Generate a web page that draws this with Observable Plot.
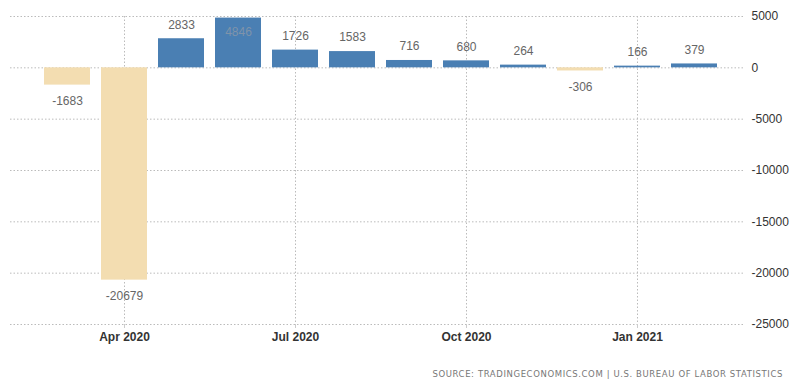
<!DOCTYPE html>
<html>
<head>
<meta charset="utf-8">
<script src="https://cdn.jsdelivr.net/npm/d3@7"></script>
<script src="https://cdn.jsdelivr.net/npm/@observablehq/plot@0.6"></script>
<style>
  html, body { margin: 0; padding: 0; background: #fff; }
  #chart { width: 800px; height: 387px; position: relative; }
  #source { position: absolute; right: 17px; top: 369px; font-family: "DejaVu Sans", sans-serif; font-size: 8.5px; letter-spacing: 0.6px; color: #777; }
</style>
</head>
<body>
<div id="chart"></div>
<script>
const months = ["2020-03","2020-04","2020-05","2020-06","2020-07","2020-08","2020-09","2020-10","2020-11","2020-12","2021-01","2021-02"];
const values = [-1683, -20679, 2833, 4846, 1726, 1583, 716, 680, 264, -306, 166, 379];
const tickMonths = ["2020-04","2020-07","2020-10","2021-01"];
const tickLabels = ["Apr 2020","Jul 2020","Oct 2020","Jan 2021"];
const yTicks = [5000, 0, -5000, -10000, -15000, -20000, -25000];
const sourceText = "SOURCE: TRADINGECONOMICS.COM | U.S. BUREAU OF LABOR STATISTICS";

const data = months.map((m, i) => ({month: m, value: values[i]}));
const labelMap = new Map(tickMonths.map((m, i) => [m, tickLabels[i]]));
const tall = d => d.value > 4000;

const plot = Plot.plot({
  width: 800,
  height: 350,
  marginLeft: 10,
  marginRight: 55,
  marginTop: 16,
  marginBottom: 26,
  style: {fontFamily: "Liberation Sans, Arial, sans-serif", fontSize: "12px", background: "#fff"},
  x: {type: "band", domain: months, paddingInner: 0.2, paddingOuter: 0.5, align: 0.55, label: null},
  y: {domain: [-25000, 5000], label: null},
  marks: [
    Plot.gridY(yTicks, {stroke: "#bbb", strokeOpacity: 1, strokeDasharray: "1.5,2"}),
    Plot.gridX(tickMonths, {stroke: "#bbb", strokeOpacity: 1, strokeDasharray: "1.5,2"}),
    Plot.barY(data, {x: "month", y: "value", fill: d => d.value >= 0 ? "#4a7fb3" : "#f3ddb1"}),
    Plot.axisY(yTicks, {anchor: "right", label: null, tickSize: 0, tickPadding: 6, tickFormat: d => String(d), fill: "#333", fontSize: 12}),
    Plot.axisX(tickMonths, {anchor: "bottom", label: null, tickSize: 4, tickPadding: 4, stroke: "#ccc", tickFormat: d => labelMap.get(d), fill: "#333", fontSize: 12, fontWeight: "bold"}),
    Plot.text(data.filter(d => d.value >= 0 && !tall(d)), {x: "month", y: "value", dy: -14, text: d => String(d.value), fill: "#666", fontSize: 12}),
    Plot.text(data.filter(tall), {x: "month", y: "value", dy: 14, text: d => String(d.value), fill: "#7f93aa", fontSize: 12}),
    Plot.text(data.filter(d => d.value < 0), {x: "month", y: "value", dy: 16, text: d => String(d.value), fill: "#666", fontSize: 12})
  ]
});
document.getElementById("chart").appendChild(plot);
const src = document.createElement("div");
src.id = "source";
src.textContent = sourceText;
document.getElementById("chart").appendChild(src);
</script>
</body>
</html>
